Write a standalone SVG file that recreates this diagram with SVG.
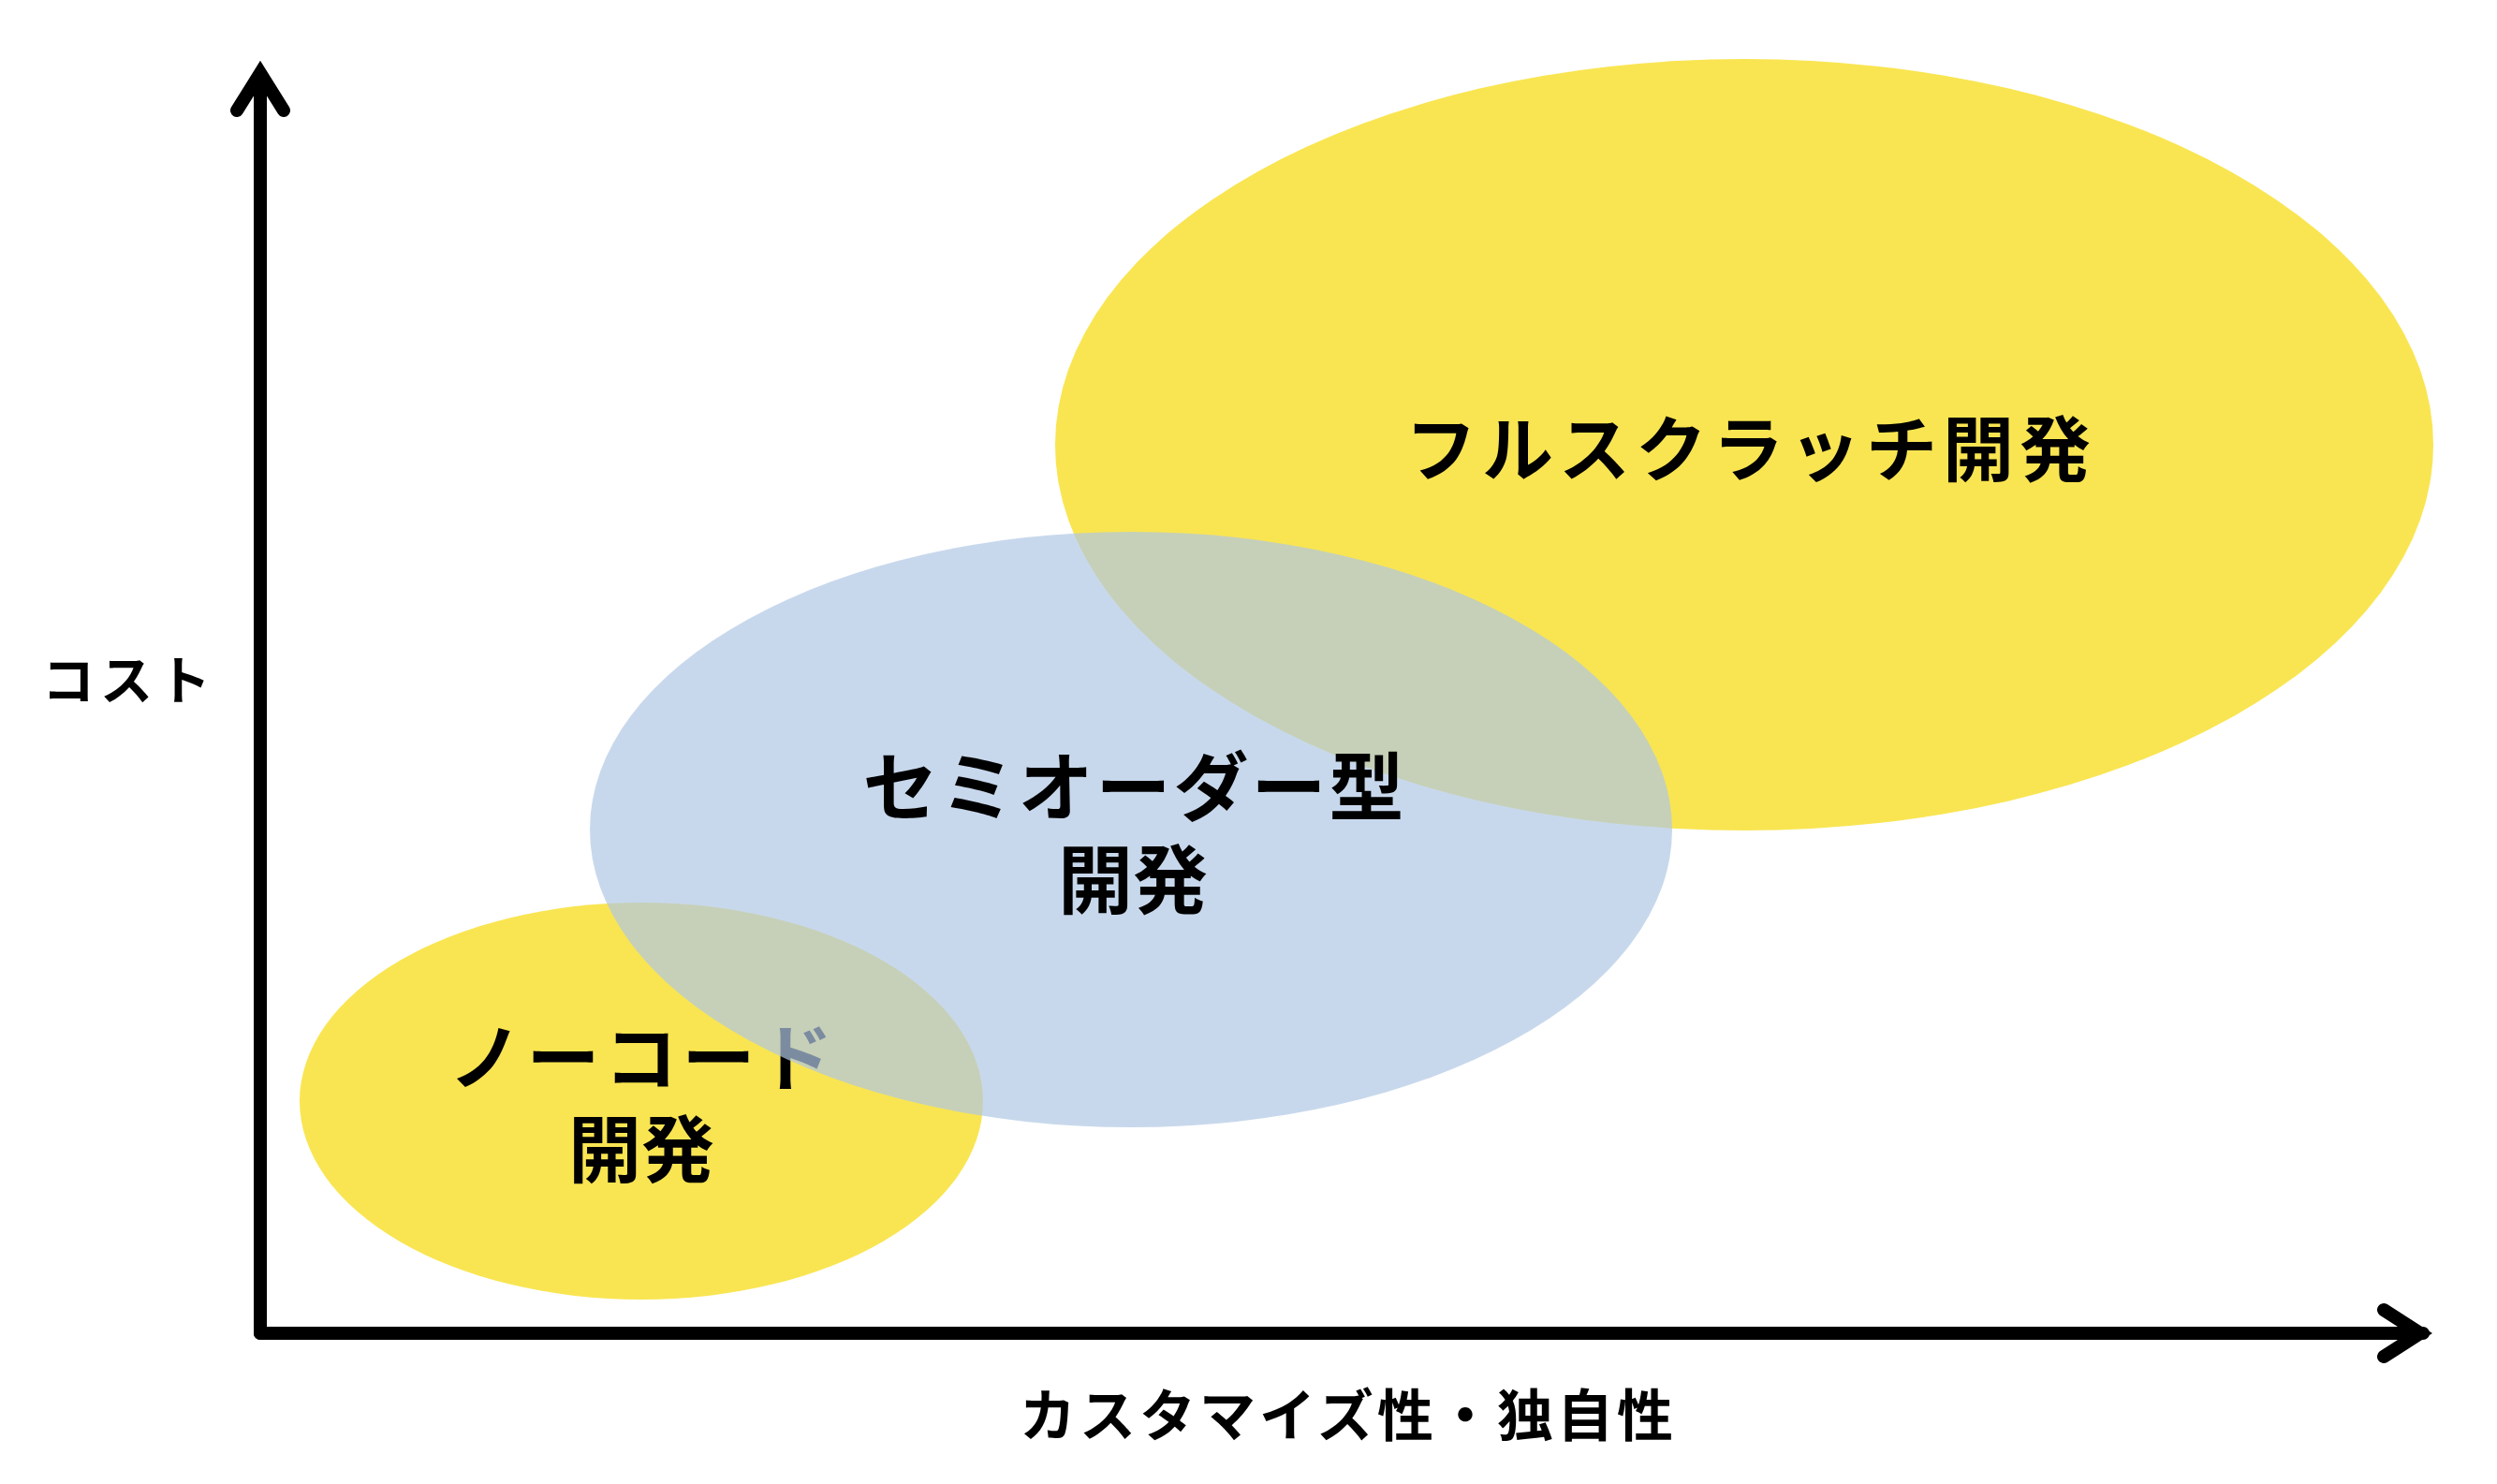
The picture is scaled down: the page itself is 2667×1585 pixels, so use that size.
<svg xmlns="http://www.w3.org/2000/svg" width="2667" height="1585" viewBox="0 0 2667 1585">
<style>
.t{font-family:"Noto Sans CJK JP","Noto Sans",sans-serif;font-weight:700;fill:#000;text-anchor:middle}
.y{fill:#F9E552}
.b{fill:#B0C7E4;fill-opacity:0.7}
.ax{fill:none;stroke:#000;stroke-width:14;stroke-linecap:round;stroke-linejoin:miter;stroke-miterlimit:10}
</style>
<rect width="2667" height="1585" fill="#fff"/>
<g id="nocode">
<ellipse class="y" cx="685" cy="1176" rx="365" ry="212"/>
<text class="t" x="687" y="1159" font-size="78" letter-spacing="5">ノーコード</text>
<text class="t" x="685" y="1257" font-size="78">開発</text>
</g>
<g id="fullscratch">
<ellipse class="y" cx="1863" cy="475" rx="736" ry="412"/>
<text class="t" x="1870" y="508" font-size="76" letter-spacing="6">フルスクラッチ開発</text>
</g>
<g id="semiorder">
<ellipse class="b" cx="1208" cy="886" rx="578" ry="318"/>
<text class="t" x="1212" y="870" font-size="80" letter-spacing="3">セミオーダー型</text>
<text class="t" x="1210" y="969" font-size="80">開発</text>
</g>
<g id="axes">
<line class="ax" x1="278" y1="80" x2="278" y2="1424" stroke-linecap="square"/>
<line class="ax" x1="278" y1="1424" x2="2588" y2="1424"/>
<polyline class="ax" points="253,118 278,78 303,118"/>
<polyline class="ax" points="2546,1399 2585,1424 2546,1449"/>
</g>
<g id="labels">
<text class="t" x="138" y="747" font-size="56" letter-spacing="6">コスト</text>
<text class="t" x="1440" y="1534" font-size="60" letter-spacing="4">カスタマイズ性・独自性</text>
</g>
</svg>
